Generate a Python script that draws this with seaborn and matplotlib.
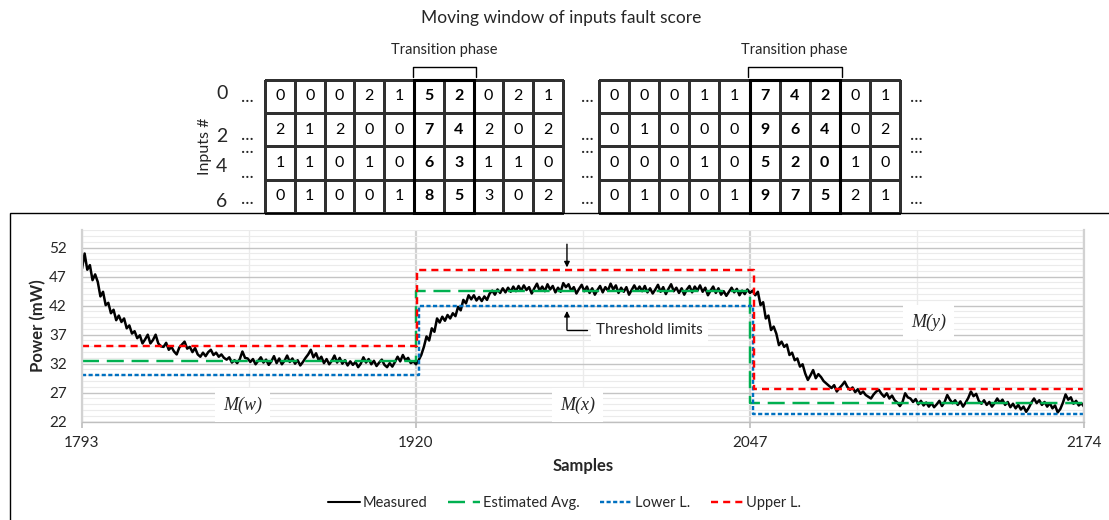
import numpy as np
import pandas as pd
import matplotlib
matplotlib.use("Agg")
import matplotlib.pyplot as plt
import seaborn as sns
from matplotlib.colors import ListedColormap
from matplotlib.patches import Rectangle
from matplotlib.lines import Line2D

# ---------------- data ----------------
first_sample = 1793
measured = [
    # 1793-1860
    48.4, 51.0, 48.2, 49.0, 46.4, 47.4, 46.1, 43.6, 44.4, 42.1,
    42.5, 40.7, 41.3, 39.5, 40.3, 39.2, 39.8, 38.1, 38.6, 37.2,
    37.6, 36.4, 36.9, 35.5, 36.2, 37.0, 35.5, 36.1, 37.0, 35.5,
    35.0, 34.9, 35.6, 34.4, 34.9, 34.1, 33.6, 34.8, 35.3, 35.8,
    34.6, 34.9, 34.0, 34.7, 33.6, 33.2, 33.9, 33.3, 34.0, 34.4,
    33.5, 33.9, 33.2, 33.6, 33.0, 32.7, 33.1, 32.2, 32.6, 32.1,
    32.8, 34.1, 33.0, 32.9, 32.3, 32.8, 31.9, 32.5,
    # 1861-1920
    33.1, 32.2, 32.7, 31.8, 32.4, 33.3, 32.1, 32.9, 31.9, 32.5,
    33.4, 32.3, 32.9, 32.0, 32.6, 31.7, 32.3, 33.0, 33.6, 34.4,
    33.1, 33.8, 32.6, 33.2, 32.1, 32.8, 31.9, 32.5, 33.4, 32.2,
    33.0, 32.0, 32.6, 31.7, 32.4, 31.8, 32.3, 31.4, 32.0, 33.1,
    32.2, 32.8, 31.9, 32.5, 31.6, 32.2, 32.7, 31.8, 31.4, 32.1,
    31.5, 32.3, 33.2, 32.4, 33.5, 32.6, 33.0, 32.1, 32.4, 31.9,
    # 1921-1950
    32.6, 33.5, 34.9, 36.7, 36.0, 38.1, 37.5, 39.8, 39.1, 40.1,
    39.4, 40.4, 39.8, 40.7, 40.2, 41.8, 41.2, 43.0, 42.4, 43.8,
    43.1, 43.8, 42.9, 43.5, 42.8, 43.6, 43.0, 44.1, 44.6, 43.9,
    # 1951-2047
    44.8, 44.2, 45.0, 44.3, 45.1, 44.4, 45.3, 44.5, 45.4, 44.6,
    45.5, 44.7, 45.2, 44.1, 45.0, 45.8, 44.6, 45.3, 44.5, 45.7,
    44.8, 45.4, 44.3, 45.1, 44.4, 45.9, 45.2, 45.7, 44.6, 45.2,
    44.1, 44.9, 45.6, 44.5, 45.3, 44.2, 45.0, 43.9, 44.7, 45.4,
    44.3, 45.2, 44.6, 45.8, 44.8, 45.5, 44.2, 45.1, 44.4, 45.2,
    43.9, 44.7, 45.5, 44.6, 45.3, 44.5, 45.4, 44.3, 45.0, 44.1,
    44.8, 45.6, 44.4, 45.2, 44.0, 44.9, 45.7, 44.5, 45.1, 44.2,
    45.0, 43.9, 44.8, 45.4, 44.3, 45.3, 44.6, 45.5, 44.4, 45.1,
    43.8, 44.6, 45.3, 44.2, 45.0, 43.9, 44.5, 43.7, 44.4, 45.1,
    44.3, 44.9, 43.8, 44.6, 44.0, 44.8, 44.2,
    # 2048-2174
    44.6, 43.8, 44.4, 42.1, 42.6, 39.8, 40.3, 37.8, 38.4, 37.2,
    35.2, 35.8, 34.9, 35.3, 33.5, 33.9, 32.6, 32.9, 31.5, 31.9,
    30.3, 29.2, 30.0, 30.9, 29.5, 30.2, 29.7, 29.0, 28.6, 28.2,
    27.8, 28.3, 27.2, 27.8, 28.3, 28.9, 28.0, 27.5, 27.9, 27.1,
    27.6, 26.8, 27.2, 26.6, 26.3, 26.0, 26.7, 27.2, 27.5, 26.8,
    26.3, 26.9, 26.0, 26.5, 25.7, 25.3, 24.7, 25.4, 26.9, 26.2,
    26.0, 25.4, 25.9, 25.0, 25.6, 24.8, 25.3, 24.6, 25.2, 24.5,
    25.0, 25.6, 24.7, 25.4, 26.6, 25.8, 25.2, 25.7, 24.9, 25.5,
    24.6, 25.3, 26.1, 27.2, 26.4, 26.8, 25.6, 25.1, 25.7, 24.9,
    25.4, 24.6, 25.2, 26.0, 25.3, 25.8, 24.9, 25.4, 24.5, 25.1,
    24.3, 24.9, 24.1, 24.6, 23.7, 24.4, 25.3, 26.0, 25.2, 25.7,
    24.9, 25.4, 24.6, 25.2, 24.3, 24.8, 23.6, 24.2, 25.3, 26.7,
    25.8, 26.2, 25.1, 25.6, 24.8, 25.2, 24.6,
]

last_sample = 2174
# threshold levels per phase M(w), M(x), M(y) and the samples where they switch
avg_levels = [32.5, 44.5, 25.3]
lower_levels = [30.0, 42.0, 23.3]
upper_levels = [35.0, 48.2, 27.7]
avg_switch = [1920, 2047]
lower_switch = [1921, 2048.3]
upper_switch = [1920.5, 2048.6]

x_ticks = [1793, 1920, 2047, 2174]
x_minor = [1856.5, 1983.5, 2110.5]
y_ticks = [22, 27, 32, 37, 42, 47, 52]

phase_names = ["M(w)", "M(x)", "M(y)"]
phase_label_x = [1854, 1981.5, 2115]
phase_label_y = [24.9, 24.9, 39.2]

# fault scores of the input groups over the moving window
input_ids = ["0", "2", "4", "6"]
scores_first = [
    [0, 0, 0, 2, 1, 5, 2, 0, 2, 1],
    [2, 1, 2, 0, 0, 7, 4, 2, 0, 2],
    [1, 1, 0, 1, 0, 6, 3, 1, 1, 0],
    [0, 1, 0, 0, 1, 8, 5, 3, 0, 2],
]
scores_second = [
    [0, 0, 0, 1, 1, 7, 4, 2, 0, 1],
    [0, 1, 0, 0, 0, 9, 6, 4, 0, 2],
    [0, 0, 0, 1, 0, 5, 2, 0, 1, 0],
    [0, 1, 0, 0, 1, 9, 7, 5, 2, 1],
]
transition_first = (5, 7)
transition_second = (5, 8)

# ---------------- style ----------------
sns.set_theme(style="white")
plt.rcParams["font.family"] = ["Lato", "DejaVu Sans"]

W, H = 1109, 520
fig = plt.figure(figsize=(W / 100, H / 100), dpi=100)

C_MEAS = "black"
C_AVG = "#00B050"
C_LOW = "#0070C0"
C_UP = "#FF0000"
LS_AVG = (0, (7.0, 3.2))
LS_LOW = (0, (1.7, 1.0))
LS_UP = (0, (2.9, 2.1))
LW = 1.75
LW_MEAS = 1.8


def fig_box(x0, y0, x1, y1):
    """Convert a pixel box (top-left origin) to figure fractions."""
    return [x0 / W, 1 - y1 / H, (x1 - x0) / W, (y1 - y0) / H]


# outer frame around the power plot
fig.add_artist(Rectangle((10 / W, -0.2), 1.2, (H - 213) / H + 0.2,
                         transform=fig.transFigure, fill=False,
                         lw=1.0, ec="black"))

fig.text(0.506, 1 - 18 / H, "Moving window of inputs fault score",
         ha="center", va="center", fontsize=12.5)


def score_table(ax, scores, trans, dot_cols, labels):
    data = np.array(scores)
    sns.heatmap(data, ax=ax, annot=True, fmt="d", cbar=False,
                cmap=ListedColormap(["white"]), linewidths=1.0,
                linecolor="#303030", xticklabels=False, yticklabels=False,
                annot_kws=dict(fontsize=11.5, color="black"))
    ax.collections[0].set_clip_on(False)
    c0, c1 = trans
    for t in ax.texts:
        cx, _ = t.get_position()
        if c0 <= cx <= c1:
            t.set_fontweight("bold")
    ax.add_patch(Rectangle((c0, 0), c1 - c0, data.shape[0], fill=False,
                           lw=2.2, ec="black", clip_on=False, zorder=5))
    ax.plot([c0 - 0.05, c0 - 0.05, c1 + 0.07, c1 + 0.07],
            [-0.07, -0.37, -0.37, -0.07], color="black", lw=1.0,
            clip_on=False)
    ax.text((c0 + c1) / 2, -0.88, "Transition phase", ha="center",
            va="center", fontsize=10.5)
    # ellipses marking the rows that are left out
    for xd in dot_cols:
        for yd, txt in [(0.66, "..."), (2.2, "...\n..."),
                        (2.95, "..."), (3.73, "...")]:
            ax.text(xd, yd, txt, ha="center", va="baseline", fontsize=13,
                    linespacing=0.78)
    if labels:
        for lab, yl in zip(input_ids, [0.42, 1.71, 2.62, 3.66]):
            ax.text(-1.45, yl, lab, ha="center", va="center", fontsize=14)
        ax.text(-2.0, 2.0, "Inputs #", rotation=90, ha="center",
                va="center", fontsize=11.5)


ax_t1 = fig.add_axes(fig_box(265, 79.5, 563, 213))
score_table(ax_t1, scores_first, transition_first, [-0.6], True)
ax_t2 = fig.add_axes(fig_box(599, 79.5, 900, 213))
score_table(ax_t2, scores_second, transition_second, [-0.4, 10.56], False)

# ---------------- power plot ----------------
ax = fig.add_axes(fig_box(82, 230.3, 1084, 421.7))
samples = np.arange(first_sample, first_sample + len(measured))
df = pd.DataFrame({"Samples": samples, "Power": measured})
sns.lineplot(data=df, x="Samples", y="Power", ax=ax, color=C_MEAS,
             lw=LW_MEAS, label="Measured", legend=False)


def step_frame(levels, switch):
    xs = [first_sample] + list(switch) + [last_sample]
    ys = list(levels) + [levels[-1]]
    return pd.DataFrame({"Samples": xs, "Power": ys})


for levels, switch, col, ls, lab in [
        (avg_levels, avg_switch, C_AVG, LS_AVG, "Estimated Avg."),
        (lower_levels, lower_switch, C_LOW, LS_LOW, "Lower L."),
        (upper_levels, upper_switch, C_UP, LS_UP, "Upper L.")]:
    sns.lineplot(data=step_frame(levels, switch), x="Samples", y="Power",
                 ax=ax, color=col, lw=LW, linestyle=ls,
                 drawstyle="steps-post", label=lab, legend=False)

ax.set_xlim(first_sample, last_sample)
ax.set_ylim(22, 55)
ax.set_xticks(x_ticks)
ax.set_xticks(x_minor, minor=True)
ax.set_yticks(y_ticks)
ax.set_yticks(np.arange(22, 56, 1), minor=True)
ax.grid(which="major", axis="y", color="#C4C4C4", lw=1.0)
ax.grid(which="minor", axis="y", color="#EBEBEB", lw=0.8)
ax.grid(which="major", axis="x", color="#D2D2D2", lw=1.6)
ax.grid(which="minor", axis="x", color="#EBEBEB", lw=1.0)
ax.set_axisbelow(True)
ax.spines["top"].set_visible(False)
ax.spines["bottom"].set_color("#BFBFBF")
ax.spines["bottom"].set_linewidth(1.0)
for side in ["left", "right"]:
    ax.spines[side].set_color("#D2D2D2")
    ax.spines[side].set_linewidth(1.6)
ax.tick_params(axis="x", which="major", length=4, color="#BFBFBF",
               labelsize=11, pad=6, bottom=True)
ax.tick_params(axis="y", which="major", length=0, labelsize=11, pad=11)
ax.tick_params(which="minor", length=0)
ax.set_xlabel("Samples", fontsize=12, fontweight="bold", labelpad=6)
ax.set_ylabel("Power (mW)", fontsize=12, fontweight="bold", labelpad=2)

for name, xl, yl in zip(phase_names, phase_label_x, phase_label_y):
    ax.text(xl, yl, name, ha="center", va="center", fontsize=13,
            family="Liberation Serif", style="italic", zorder=6,
            bbox=dict(boxstyle="square,pad=0.45", fc="white", ec="none"))

# callouts pointing at the threshold limits
arrow_x = 1977.4
ax.annotate("", xy=(arrow_x, 48.6), xytext=(arrow_x, 52.6),
            arrowprops=dict(arrowstyle="-|>", color="black", lw=1.0,
                            mutation_scale=8, shrinkA=0, shrinkB=0))
ax.annotate("", xy=(arrow_x, 41.1), xytext=(arrow_x, 37.8),
            arrowprops=dict(arrowstyle="-|>", color="black", lw=1.0,
                            mutation_scale=8, shrinkA=0, shrinkB=0))
ax.plot([arrow_x, 1985.0], [37.8, 37.8], color="black", lw=1.0)
ax.text(1988.5, 37.8, "Threshold limits", ha="left", va="center",
        fontsize=11, zorder=6,
        bbox=dict(boxstyle="square,pad=0.35", fc="white", ec="none"))

handles = [
    Line2D([], [], color=C_MEAS, lw=1.5),
    Line2D([], [], color=C_AVG, lw=LW, linestyle=LS_AVG),
    Line2D([], [], color=C_LOW, lw=LW, linestyle=LS_LOW),
    Line2D([], [], color=C_UP, lw=LW, linestyle=LS_UP),
]
labels = ["Measured", "Estimated Avg.", "Lower L.", "Upper L."]
fig.legend(handles, labels, loc="center", bbox_to_anchor=(0.509, 0.033),
           ncol=4, frameon=False, fontsize=10.5, handlelength=2.2,
           handletextpad=0.2, columnspacing=1.4)

fig.savefig("out.png", dpi=100)
